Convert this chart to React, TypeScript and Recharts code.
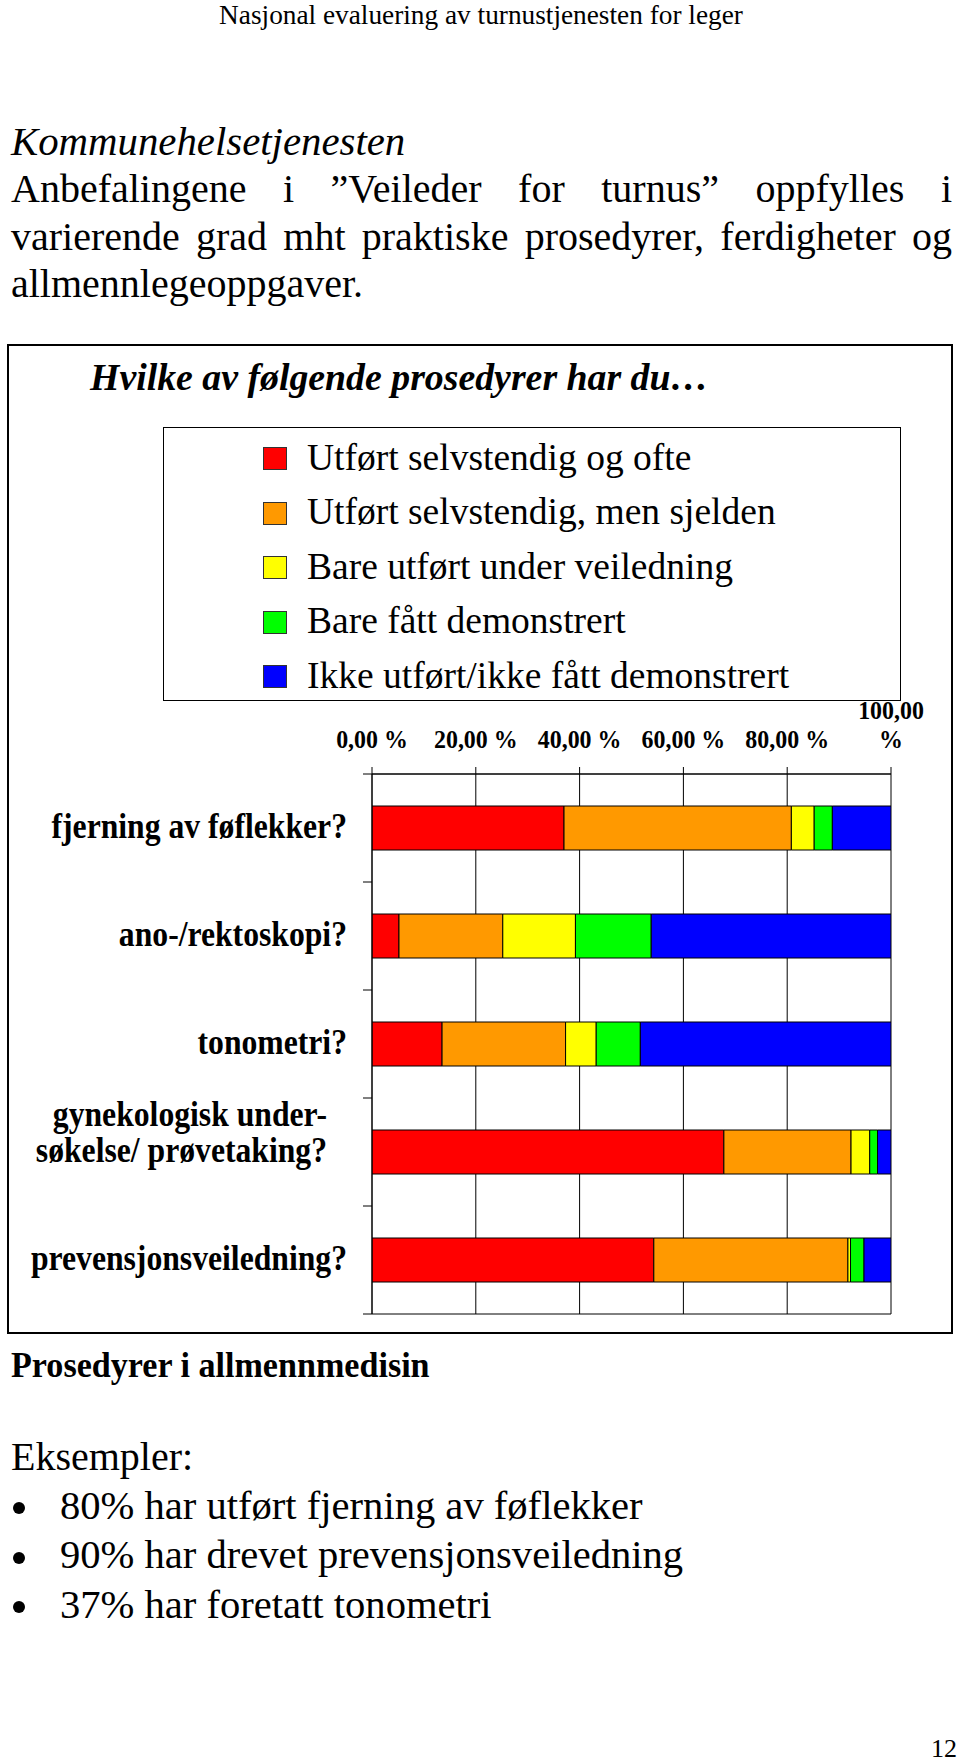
import React from "react";
import { BarChart, Bar, XAxis, YAxis, CartesianGrid } from "recharts";

// categories (label lines split with \n)
const CATEGORIES = [
  "fjerning av føflekker?",
  "ano-/rektoskopi?",
  "tonometri?",
  "gynekologisk under-\nsøkelse/ prøvetaking?",
  "prevensjonsveiledning?",
];

// per category, share of respondents (%)
const OFTE = [37.0, 5.2, 13.5, 67.8, 54.3];
const SJELDEN = [43.8, 20.0, 23.8, 24.5, 37.4];
const VEILEDNING = [4.4, 14.0, 5.9, 3.6, 0.5];
const DEMONSTRERT = [3.5, 14.6, 8.5, 1.5, 2.6];
const IKKE = [11.3, 46.2, 48.3, 2.6, 5.2];

const SERIES_NAMES = [
  "Utført selvstendig og ofte",
  "Utført selvstendig, men sjelden",
  "Bare utført under veiledning",
  "Bare fått demonstrert",
  "Ikke utført/ikke fått demonstrert",
];
const SERIES_KEYS = ["ofte", "sjelden", "veiledning", "demonstrert", "ikke"];
const SERIES_COLORS = ["#FF0000", "#FF9900", "#FFFF00", "#00FF00", "#0000FF"];

const X_TICKS = [0, 20, 40, 60, 80, 100];

const EXAMPLES = [
  "80% har utført fjerning av føflekker",
  "90% har drevet prevensjonsveiledning",
  "37% har foretatt tonometri",
];

const chartData = CATEGORIES.map((name, i) => ({
  name,
  ofte: OFTE[i],
  sjelden: SJELDEN[i],
  veiledning: VEILEDNING[i],
  demonstrert: DEMONSTRERT[i],
  ikke: IKKE[i],
}));

const SERIF = "'Liberation Serif', 'Times New Roman', serif";

const CHART_TOP = 690;
const CHART_W = 960;
const CHART_H = 650;
const MARGIN = { top: 24, right: 69, bottom: 26, left: 12 };
const X_AXIS_H = 60;
const Y_AXIS_W = 360;
const PLOT_TOP = MARGIN.top + X_AXIS_H;
const PLOT_LEFT = MARGIN.left + Y_AXIS_W;
const PLOT_H = CHART_H - PLOT_TOP - MARGIN.bottom;
const BAND = PLOT_H / CATEGORIES.length;

const fmtPct = (v: number) => `${v.toFixed(2).replace(".", ",")} %`;

function PctTick(props: any) {
  const { x, y, payload, index } = props;
  const label = fmtPct(payload.value);
  const lines = index === X_TICKS.length - 1 ? label.split(" ") : [label];
  return (
    <g transform={`translate(${x},${y}) scale(0.92,1)`}>
      <text textAnchor="middle" fontFamily={SERIF} fontWeight="bold" fontSize={26} fill="#000">
        {lines.map((l, i) => (
          <tspan key={i} x={0} y={(i - lines.length + 1) * 29}>
            {l}
          </tspan>
        ))}
      </text>
    </g>
  );
}

function CategoryTick(props: any) {
  const { x, y, payload, index } = props;
  const lines = String(payload.value).split("\n");
  const multi = lines.length > 1;
  return (
    <g>
      <line x1={PLOT_LEFT - 9} x2={PLOT_LEFT} y1={y - BAND / 2} y2={y - BAND / 2} stroke="#000" />
      {index === CATEGORIES.length - 1 && (
        <line x1={PLOT_LEFT - 9} x2={PLOT_LEFT} y1={y + BAND / 2} y2={y + BAND / 2} stroke="#000" />
      )}
      <g transform={`translate(${multi ? x - 20 : x},${y}) scale(0.88,1)`}>
        <text textAnchor="end" fontFamily={SERIF} fontWeight="bold" fontSize={36} fill="#000">
          {lines.map((l, i) => (
            <tspan key={i} x={0} y={10 - (lines.length - 1 - i) * 36}>
              {l}
            </tspan>
          ))}
        </text>
      </g>
    </g>
  );
}

// places a single line of text by its baseline
function Text({ base, left, size, lh, children, style }: any) {
  const lineH = lh ?? size * 1.2;
  const offset = (lineH - size * 1.107) / 2 + size * 0.891;
  return (
    <div
      style={{
        position: "absolute",
        top: base - offset,
        left,
        fontSize: size,
        lineHeight: `${lineH}px`,
        whiteSpace: "nowrap",
        ...style,
      }}
    >
      {children}
    </div>
  );
}

export default function App() {
  return (
    <div
      style={{
        position: "absolute",
        left: 0,
        top: 0,
        width: 960,
        height: 1763,
        background: "#fff",
        fontFamily: SERIF,
        color: "#000",
        overflow: "hidden",
      }}
    >
      <Text base={24.5} left={0} size={27.3} style={{ width: 962, textAlign: "center" }}>
        Nasjonal evaluering av turnustjenesten for leger
      </Text>

      <div
        style={{
          position: "absolute",
          top: 155 - 37.2,
          left: 11,
          width: 941,
          fontSize: 40,
          lineHeight: "47.5px",
          textAlign: "justify",
        }}
      >
        <i style={{ fontSize: 40.8 }}>Kommunehelsetjenesten</i>
        <br />
        Anbefalingene i ”Veileder for turnus” oppfylles i varierende grad mht praktiske prosedyrer,
        ferdigheter og allmennlegeoppgaver.
      </div>

      {/* chart frame */}
      <div
        style={{
          position: "absolute",
          left: 7,
          top: 344,
          width: 942,
          height: 986,
          border: "2px solid #000",
        }}
      />

      <Text base={390} left={90} size={37.8} style={{ fontWeight: "bold", fontStyle: "italic" }}>
        Hvilke av følgende prosedyrer har du…
      </Text>

      {/* legend */}
      <div
        style={{
          position: "absolute",
          left: 163,
          top: 427,
          width: 736,
          height: 272,
          border: "1px solid #000",
        }}
      />
      {SERIES_NAMES.map((name, i) => (
        <React.Fragment key={name}>
          <div
            style={{
              position: "absolute",
              left: 263,
              top: 447 + i * 54.5,
              width: 22,
              height: 21,
              background: SERIES_COLORS[i],
              border: "1px solid #333",
            }}
          />
          <Text base={470 + i * 54.5} left={307} size={37.5}>
            {name}
          </Text>
        </React.Fragment>
      ))}

      <div style={{ position: "absolute", left: 0, top: CHART_TOP }}>
        <BarChart
          width={CHART_W}
          height={CHART_H}
          data={chartData}
          layout="vertical"
          margin={MARGIN}
          barSize={44}
        >
          <CartesianGrid stroke="#000" horizontalPoints={[PLOT_TOP, PLOT_TOP + PLOT_H]} />
          <XAxis
            type="number"
            orientation="top"
            domain={[0, 100]}
            ticks={X_TICKS}
            interval={0}
            allowDataOverflow
            height={X_AXIS_H}
            tickSize={7}
            tickMargin={19}
            axisLine={{ stroke: "#000" }}
            tickLine={{ stroke: "#000" }}
            tick={(p: any) => <PctTick {...p} />}
          />
          <YAxis
            type="category"
            dataKey="name"
            width={Y_AXIS_W}
            interval={0}
            tickSize={9}
            tickMargin={16}
            tickLine={false}
            axisLine={{ stroke: "#000" }}
            tick={(p: any) => <CategoryTick {...p} />}
          />
          {SERIES_KEYS.map((k, i) => (
            <Bar
              key={k}
              dataKey={k}
              name={SERIES_NAMES[i]}
              stackId="a"
              fill={SERIES_COLORS[i]}
              stroke="#000"
              strokeWidth={1}
              isAnimationActive={false}
            />
          ))}
        </BarChart>
      </div>

      <Text
        base={1378}
        left={11}
        size={36}
        style={{ fontWeight: "bold", transform: "scaleX(0.947)", transformOrigin: "left" }}
      >
        Prosedyrer i allmennmedisin
      </Text>

      <Text base={1470} left={11} size={40}>
        Eksempler:
      </Text>
      {EXAMPLES.map((t, i) => (
        <React.Fragment key={t}>
          <div
            style={{
              position: "absolute",
              left: 13,
              top: 1502 + i * 49.5,
              width: 12,
              height: 12,
              borderRadius: "50%",
              background: "#000",
            }}
          />
          <Text base={1520 + i * 49.5} left={60} size={40.6}>
            {t}
          </Text>
        </React.Fragment>
      ))}

      <Text base={1757} left={0} size={26} style={{ width: 957, textAlign: "right" }}>
        12
      </Text>
    </div>
  );
}
